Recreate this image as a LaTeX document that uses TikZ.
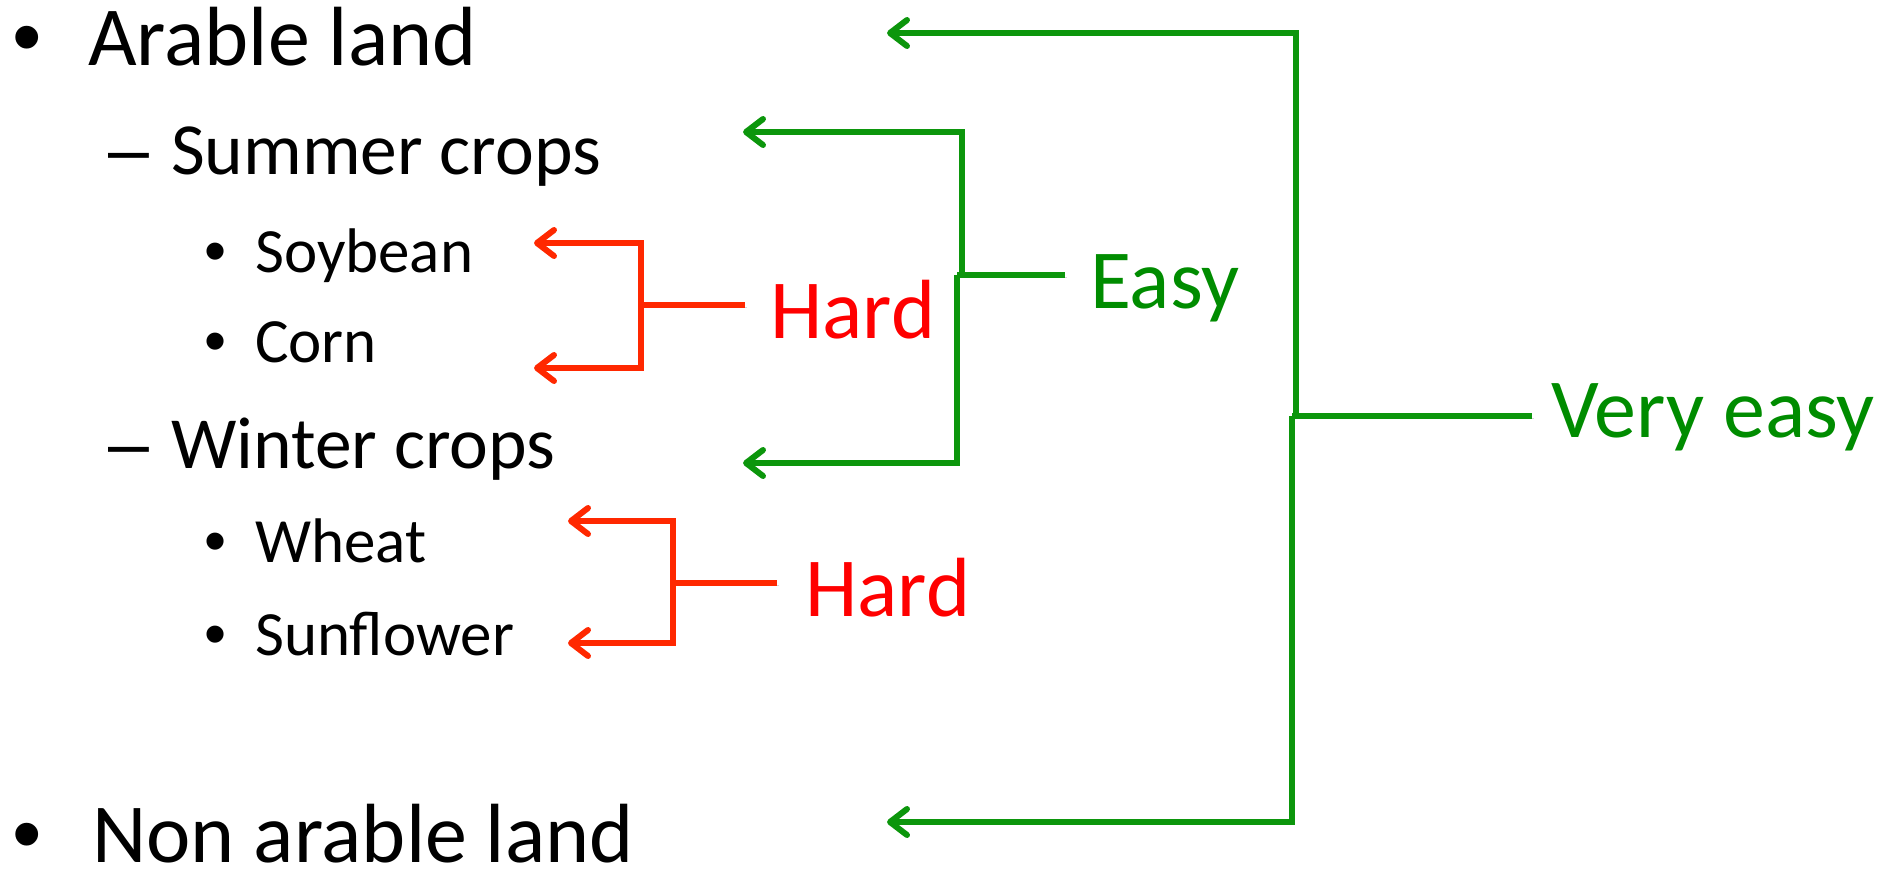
\documentclass[tikz,border=0pt]{standalone}
\usepackage{fontspec}
\setmainfont{Carlito}
\newfontfamily\bulletfont{Liberation Sans}
\usetikzlibrary{arrows.meta}
\definecolor{gtext}{RGB}{0,140,0}
\definecolor{gline}{RGB}{12,150,12}
\definecolor{rtext}{RGB}{255,0,0}
\definecolor{rline}{RGB}{255,40,0}
\tikzset{
  lvlone/.style={anchor=base west,inner sep=0pt,font=\fontsize{84}{100}\selectfont},
  lvltwo/.style={anchor=base west,inner sep=0pt,font=\fontsize{73.5}{88}\selectfont},
  lvlthree/.style={anchor=base west,inner sep=0pt,font=\fontsize{63}{76}\selectfont},
  bulone/.style={anchor=base,inner sep=0pt,font=\bulletfont\fontsize{84}{100}\selectfont},
  bultwo/.style={anchor=base,inner sep=0pt,font=\bulletfont\fontsize{73.5}{88}\selectfont},
  bulthree/.style={anchor=base,inner sep=0pt,font=\bulletfont\fontsize{63}{76}\selectfont},
  redlabel/.style={anchor=base west,inner sep=0pt,text=rtext,font=\fontsize{84}{100}\selectfont},
  greenlabel/.style={anchor=base west,inner sep=0pt,text=gtext,font=\fontsize{84}{100}\selectfont},
  shadowed/.style={preaction={draw=black,opacity=0.15,transform canvas={shift={(1.5pt,-2.5pt)}}}},
  conn/.style={line width=6pt,line join=miter,shadowed},
  tip/.style={-{Straight Barb[length=17pt,width=26pt,line cap=round,line join=round]}},
  gconn/.style={conn,draw=gline},
  rconn/.style={conn,draw=rline},
}
\begin{document}
\begin{tikzpicture}[x=1pt,y=-1pt]
\useasboundingbox (0,0) rectangle (1897,869);
% texts
\node[bulone] (b1) at (27,66) {•};
\node[lvlone] (arable) at (88,66) {Arable land};
\node[bultwo] (d1) at (129,175) {–};
\node[lvltwo] (summer) at (171,175) {Summer crops};
\node[bulthree] (b2) at (216,272) {•};
\node[lvlthree] (soy) at (255,272) {Soybean};
\node[bulthree] (b3) at (216,362) {•};
\node[lvlthree] (corn) at (255,362) {Corn};
\node[bultwo] (d2) at (129,468) {–};
\node[lvltwo] (winter) at (171,468) {Winter crops};
\node[bulthree] (b4) at (216,562) {•};
\node[lvlthree] (wheat) at (255,562) {Wheat};
\node[bulthree] (b5) at (216,655) {•};
\node[lvlthree] (sun) at (255,655) {Sunflower};
\node[bulone] (b6) at (27,862) {•};
\node[lvlone] (nonarable) at (92,862) {Non arable land};
\node[redlabel] (hard1) at (770,338) {Hard};
\node[redlabel] (hard2) at (805,616) {Hard};
\node[greenlabel] (easy) at (1090,308) {Easy};
\node[greenlabel] (veasy) at (1551,437) {Very easy};
% connector coordinates
\coordinate (tArable) at (887,33);
\coordinate (tNon) at (887,822);
\coordinate (vjU) at (1296,416);
\coordinate (vjL) at (1292,416);
\coordinate (veEnd) at (1532,416);
\coordinate (tSummer) at (743,132);
\coordinate (tWinter) at (743,463);
\coordinate (ejU) at (962,275);
\coordinate (ejL) at (957,275);
\coordinate (eEnd) at (1065,275);
\coordinate (tSoy) at (534,243);
\coordinate (tCorn) at (534,368);
\coordinate (hjA) at (641,305);
\coordinate (hEndA) at (745,305);
\coordinate (tWheat) at (568,521);
\coordinate (tSun) at (568,643);
\coordinate (hjB) at (673,583);
\coordinate (hEndB) at (777,583);
% green: very easy
\draw[gconn,tip] (vjU) |- (tArable);
\draw[gconn,tip] (vjL) |- (tNon);
\draw[gconn] (vjL) -- (veEnd);
% green: easy
\draw[gconn,tip] (ejU) |- (tSummer);
\draw[gconn,tip] (ejL) |- (tWinter);
\draw[gconn] (ejL) -- (eEnd);
% red: hard (summer)
\draw[rconn,tip] (hjA) |- (tSoy);
\draw[rconn,tip] (hjA) |- (tCorn);
\draw[rconn] (hjA) -- (hEndA);
% red: hard (winter)
\draw[rconn,tip] (hjB) |- (tWheat);
\draw[rconn,tip] (hjB) |- (tSun);
\draw[rconn] (hjB) -- (hEndB);
\end{tikzpicture}
\end{document}
